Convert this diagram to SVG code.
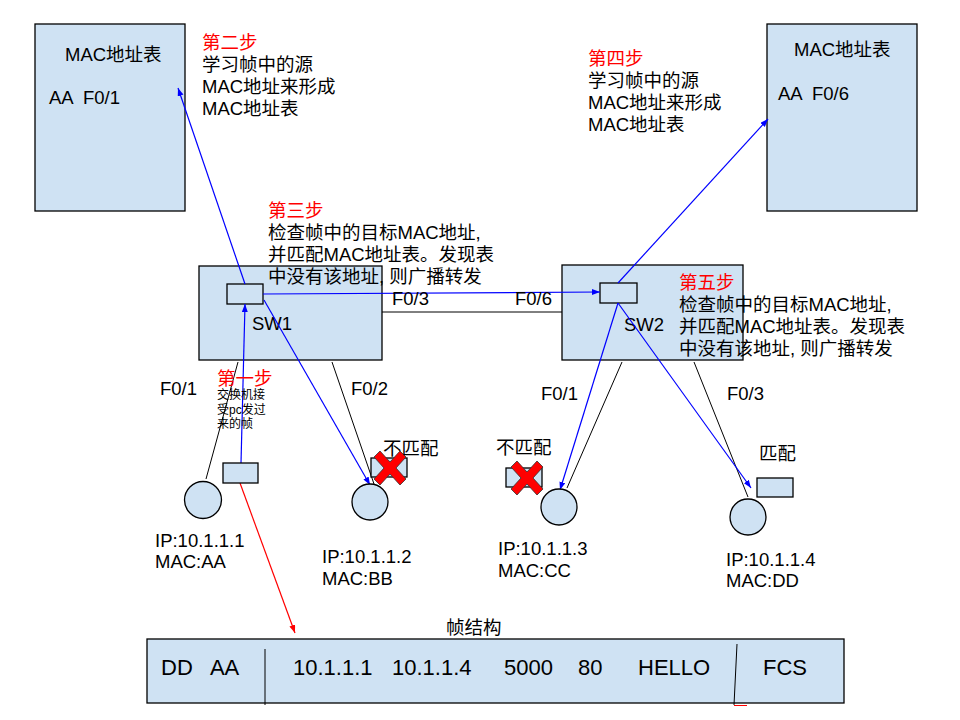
<svg xmlns="http://www.w3.org/2000/svg" width="960" height="720" viewBox="0 0 960 720">
<style>
text{font-family:"Liberation Sans","Noto Sans CJK SC",sans-serif;font-size:18.5px;fill:#000}
.red{fill:#ff0000}
.sm{font-size:12px}
.big{font-size:22px}
.box{fill:#cfe2f3;stroke:#000;stroke-width:1.3}
.ln{stroke:#000;stroke-width:1;fill:none}
.bl{stroke:#0000ff;stroke-width:1.2;fill:none;marker-end:url(#ab)}
.rl{stroke:#ff0000;stroke-width:1.2;fill:none;marker-end:url(#ar)}
.x{fill:#ff0000;stroke:#333;stroke-width:0.8}
</style>
<defs>
<marker id="ab" markerWidth="9" markerHeight="7" refX="8" refY="3" orient="auto" markerUnits="userSpaceOnUse"><path d="M0,0 L8,3 L0,6 z" fill="#0000ff"/></marker>
<marker id="ar" markerWidth="9" markerHeight="7" refX="8" refY="3" orient="auto" markerUnits="userSpaceOnUse"><path d="M0,0 L8,3 L0,6 z" fill="#ff0000"/></marker>
<path id="xm" d="M-16,-11 L-10,-17 L0,-6 L10,-17 L16,-11 L6,0 L16,11 L10,17 L0,6 L-10,17 L-16,11 L-6,0 z"/>
</defs>

<g id="mac-table-left">
<rect class="box" x="35" y="24" width="150" height="187"/>
<text x="65" y="61">MAC地址表</text>
<text x="49" y="104" xml:space="preserve">AA  F0/1</text>
</g>
<g id="mac-table-right">
<rect class="box" x="767" y="24" width="150" height="187"/>
<text x="794" y="56">MAC地址表</text>
<text x="778" y="100" xml:space="preserve">AA  F0/6</text>
</g>

<g id="sw1">
<rect class="box" x="199" y="266" width="183" height="94"/>
<rect class="box" x="227" y="284" width="36" height="20"/>
<text x="252" y="330">SW1</text>
</g>
<g id="sw2">
<rect class="box" x="562" y="265" width="181" height="95"/>
<rect class="box" x="600" y="283" width="37" height="20"/>
<text x="624" y="331">SW2</text>
</g>

<g id="connectors">
<line class="ln" x1="382" y1="312" x2="562" y2="312"/>
<line class="ln" x1="238" y1="362" x2="206" y2="479"/>
<line class="ln" x1="332" y1="362" x2="374" y2="484"/>
<line class="ln" x1="622" y1="362" x2="567" y2="488"/>
<line class="ln" x1="694" y1="362" x2="748" y2="497"/>
<line class="bl" x1="241" y1="463" x2="245" y2="304"/>
<line class="bl" x1="245" y1="284" x2="178" y2="88"/>
<line class="bl" x1="263" y1="294" x2="600" y2="292"/>
<line class="bl" x1="264" y1="300" x2="370" y2="485"/>
<line class="bl" x1="618" y1="283" x2="768" y2="119"/>
<line class="bl" x1="618" y1="303" x2="560" y2="490"/>
<line class="bl" x1="618" y1="303" x2="751" y2="488"/>
<line class="rl" x1="240" y1="483" x2="295" y2="633"/>
</g>

<g id="labels">
<text x="392" y="305">F0/3</text>
<text x="515" y="305">F0/6</text>
<text x="160" y="395">F0/1</text>
<text x="351" y="395">F0/2</text>
<text x="541" y="400">F0/1</text>
<text x="727" y="400">F0/3</text>
</g>

<g id="step1">
<text class="red" x="217" y="385">第一步</text>
<text class="sm" x="217" y="399">交换机接</text>
<text class="sm" x="217" y="414">受pc发过</text>
<text class="sm" x="217" y="428">来的帧</text>
</g>
<g id="step2">
<text class="red" x="202" y="49">第二步</text>
<text x="202" y="71">学习帧中的源</text>
<text x="202" y="93">MAC地址来形成</text>
<text x="202" y="115">MAC地址表</text>
</g>
<g id="step3">
<text class="red" x="268" y="217">第三步</text>
<text x="268" y="239">检查帧中的目标MAC地址,</text>
<text x="268" y="261">并匹配MAC地址表。发现表</text>
<text x="268" y="283">中没有该地址, 则广播转发</text>
</g>
<g id="step4">
<text class="red" x="588" y="65">第四步</text>
<text x="588" y="87">学习帧中的源</text>
<text x="588" y="109">MAC地址来形成</text>
<text x="588" y="131">MAC地址表</text>
</g>
<g id="step5">
<text class="red" x="679" y="289">第五步</text>
<text x="679" y="311">检查帧中的目标MAC地址,</text>
<text x="679" y="333">并匹配MAC地址表。发现表</text>
<text x="679" y="355">中没有该地址, 则广播转发</text>
</g>

<g id="pc1">
<circle class="box" cx="203" cy="500" r="18.5"/>
<rect class="box" x="223" y="463" width="35" height="20"/>
<text x="155" y="547">IP:10.1.1.1</text>
<text x="155" y="568">MAC:AA</text>
</g>
<g id="pc2">
<circle class="box" cx="370" cy="502" r="18"/>
<rect class="box" x="371" y="458" width="36" height="19"/>
<use href="#xm" class="x" transform="translate(390,468)"/>
<text x="383" y="455">不匹配</text>
<text x="322" y="563">IP:10.1.1.2</text>
<text x="322" y="585">MAC:BB</text>
</g>
<g id="pc3">
<circle class="box" cx="559" cy="507" r="18"/>
<rect class="box" x="506" y="468" width="36" height="19"/>
<use href="#xm" class="x" transform="translate(527,478)"/>
<text x="496" y="454">不匹配</text>
<text x="498" y="555">IP:10.1.1.3</text>
<text x="498" y="577">MAC:CC</text>
</g>
<g id="pc4">
<circle class="box" cx="748" cy="517" r="18"/>
<rect class="box" x="757" y="478" width="36" height="19"/>
<text x="759" y="460">匹配</text>
<text x="726" y="566">IP:10.1.1.4</text>
<text x="726" y="587">MAC:DD</text>
</g>

<g id="frame">
<text x="446" y="634">帧结构</text>
<rect class="box" x="147" y="639" width="697" height="64"/>
<line class="ln" x1="265" y1="649" x2="265" y2="705"/>
<line class="ln" x1="737" y1="644" x2="734" y2="705"/>
<line x1="734" y1="705.5" x2="747" y2="705.5" stroke="#ff0000" stroke-width="1"/>
<text class="big" x="161" y="675" xml:space="preserve">DD   AA</text>
<text class="big" x="293" y="675">10.1.1.1</text>
<text class="big" x="392" y="675">10.1.1.4</text>
<text class="big" x="504" y="675">5000</text>
<text class="big" x="578" y="675">80</text>
<text class="big" x="638" y="675">HELLO</text>
<text class="big" x="763" y="675">FCS</text>
</g>
</svg>
